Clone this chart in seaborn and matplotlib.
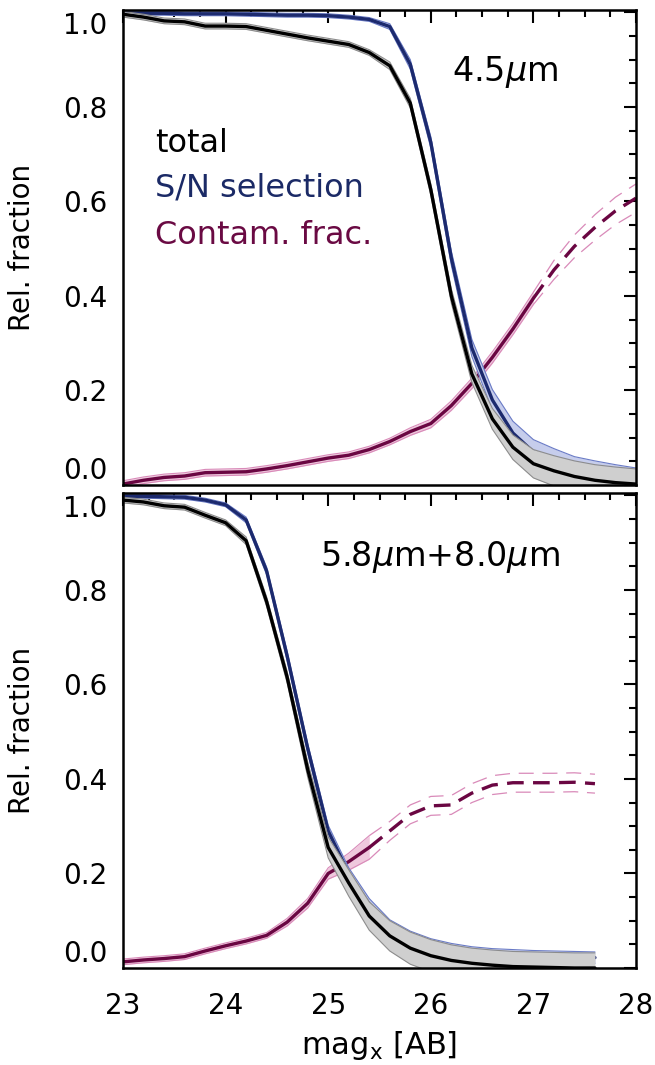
import numpy as np
import pandas as pd
import matplotlib
matplotlib.use("Agg")
import matplotlib.pyplot as plt
import seaborn as sns
from matplotlib.ticker import MultipleLocator, FixedLocator

# ---------------- data ----------------
mag_top = [23.0, 23.2, 23.4, 23.6, 23.8, 24.0, 24.2, 24.4, 24.6, 24.8, 25.0, 25.2, 25.4,
           25.6, 25.8, 26.0, 26.2, 26.4, 26.6, 26.8, 27.0, 27.2, 27.4, 27.6, 27.8, 28.0]
total_top = [0.996, 0.990, 0.982, 0.980, 0.971, 0.971, 0.970, 0.962, 0.954, 0.946, 0.939, 0.932, 0.915,
             0.887, 0.808, 0.625, 0.400, 0.235, 0.140, 0.080, 0.045, 0.030, 0.018, 0.010, 0.005, 0.002]
total_err_top = [0.006, 0.006, 0.006, 0.006, 0.006, 0.006, 0.006, 0.006, 0.006, 0.006, 0.006, 0.006, 0.006,
                 0.008, 0.010, 0.012, 0.015, 0.018, 0.022, 0.026, 0.030, 0.032, 0.033, 0.033, 0.033, 0.032]
sn_top = [0.998, 0.998, 0.998, 0.997, 0.997, 0.997, 0.996, 0.995, 0.994, 0.994, 0.993, 0.990, 0.985,
          0.970, 0.890, 0.725, 0.480, 0.290, 0.180, 0.110, 0.070, 0.055, 0.040, 0.033, 0.028, 0.022]
sn_err_top = [0.004, 0.004, 0.004, 0.004, 0.004, 0.004, 0.004, 0.004, 0.004, 0.004, 0.004, 0.004, 0.004,
              0.006, 0.010, 0.012, 0.015, 0.018, 0.022, 0.025, 0.026, 0.022, 0.020, 0.018, 0.015, 0.014]
contam_top = [0.002, 0.010, 0.016, 0.019, 0.026, 0.027, 0.028, 0.034, 0.041, 0.049, 0.057, 0.063, 0.075,
              0.092, 0.113, 0.130, 0.168, 0.215, 0.270, 0.330, 0.395, 0.455, 0.505, 0.545, 0.580, 0.607]
contam_err_top = [0.007, 0.007, 0.007, 0.007, 0.007, 0.007, 0.007, 0.007, 0.007, 0.007, 0.007, 0.007, 0.007,
                  0.007, 0.008, 0.009, 0.010, 0.011, 0.012, 0.012, 0.013, 0.020, 0.024, 0.027, 0.029, 0.030]
contam_solid_end_top = 27.0

mag_bot = [23.0, 23.2, 23.4, 23.6, 23.8, 24.0, 24.2, 24.4, 24.6, 24.8, 25.0, 25.2,
           25.4, 25.6, 25.8, 26.0, 26.2, 26.4, 26.6, 26.8, 27.0, 27.2, 27.4, 27.6]
total_bot = [0.990, 0.986, 0.978, 0.975, 0.958, 0.942, 0.904, 0.775, 0.615, 0.420, 0.255, 0.180,
             0.110, 0.068, 0.042, 0.026, 0.016, 0.010, 0.006, 0.003, 0.002, 0.001, 0.000, 0.000]
total_err_bot = [0.006, 0.006, 0.006, 0.006, 0.006, 0.006, 0.008, 0.010, 0.012, 0.016, 0.022, 0.028,
                 0.030, 0.032, 0.034, 0.034, 0.033, 0.032, 0.032, 0.032, 0.032, 0.032, 0.032, 0.032]
sn_bot = [0.998, 0.998, 0.997, 0.996, 0.990, 0.980, 0.948, 0.840, 0.660, 0.465, 0.290, 0.200,
          0.135, 0.090, 0.066, 0.050, 0.040, 0.033, 0.029, 0.027, 0.025, 0.024, 0.023, 0.022]
sn_err_bot = [0.004, 0.004, 0.004, 0.004, 0.004, 0.004, 0.006, 0.008, 0.010, 0.010, 0.012, 0.012,
              0.012, 0.012, 0.012, 0.012, 0.012, 0.012, 0.012, 0.012, 0.012, 0.012, 0.012, 0.012]
contam_bot = [0.013, 0.017, 0.020, 0.024, 0.036, 0.047, 0.057, 0.069, 0.097, 0.137, 0.200, 0.225,
              0.255, 0.290, 0.325, 0.343, 0.345, 0.370, 0.387, 0.392, 0.392, 0.392, 0.393, 0.390]
contam_err_bot = [0.006, 0.006, 0.006, 0.006, 0.006, 0.006, 0.006, 0.006, 0.008, 0.010, 0.012, 0.018,
                  0.025, 0.020, 0.020, 0.020, 0.020, 0.020, 0.020, 0.020, 0.020, 0.020, 0.020, 0.020]
contam_solid_end_bot = 25.4

panel_labels = [r"4.5$\mu$m", r"5.8$\mu$m+8.0$\mu$m"]
legend_labels = ["total", "S/N selection", "Contam. frac."]
xticks = [23, 24, 25, 26, 27, 28]
yticks = [0.0, 0.2, 0.4, 0.6, 0.8, 1.0]

# ---------------- style ----------------
sns.set_theme(style="white")
plt.rcParams["font.family"] = ["DejaVu Sans"]
plt.rcParams["mathtext.fontset"] = "dejavusans"
plt.rcParams["text.color"] = "black"
plt.rcParams["axes.labelcolor"] = "black"
plt.rcParams["xtick.color"] = "black"
plt.rcParams["ytick.color"] = "black"

C_BLACK = "#000000"
C_GRAY_FILL = "#cfcfcf"
C_GRAY_EDGE = "#8c8c8c"
C_BLUE = "#1c2a6e"
C_BLUE_FILL = "#c6cdec"
C_BLUE_EDGE = "#6a7bc6"
C_MAROON = "#6a0642"
C_PINK_FILL = "#efc8dd"
C_PINK_EDGE = "#d98ab9"
C_SN_TEXT = "#1b2a66"
C_CONT_TEXT = "#6a0a43"

fig = plt.figure(figsize=(6.55, 10.65), dpi=100)
W, H = 655.0, 1065.0
ax1 = fig.add_axes([123 / W, 1 - 485 / H, 513 / W, 475 / H])
ax2 = fig.add_axes([123 / W, 1 - 968 / H, 513 / W, 475 / H])

THICK_DASH = (0, (5.0, 2.8))
THIN_DASH = (0, (12.0, 7.0))


def band(ax, x, y, e, fill, edge, z):
    x = np.asarray(x); y = np.asarray(y); e = np.asarray(e)
    ax.fill_between(x, y - e, y + e, color=fill, lw=0, zorder=z)
    sns.lineplot(x=x, y=y + e, ax=ax, color=edge, lw=0.8, zorder=z + 0.1, errorbar=None)
    sns.lineplot(x=x, y=y - e, ax=ax, color=edge, lw=0.8, zorder=z + 0.1, errorbar=None)


def panel(ax, mag, tot, tot_e, sn, sn_e, con, con_e, solid_end):
    mag = np.asarray(mag)
    con = np.asarray(con); con_e = np.asarray(con_e)
    s = mag <= solid_end + 1e-9
    d = mag >= solid_end - 1e-9
    # contamination fraction (drawn first)
    band(ax, mag[s], con[s], con_e[s], C_PINK_FILL, C_PINK_EDGE, 1)
    sns.lineplot(x=mag[s], y=con[s], ax=ax, color=C_MAROON, lw=2.4, zorder=1.5, errorbar=None)
    sns.lineplot(x=mag[d], y=con[d] + con_e[d], ax=ax, color=C_PINK_EDGE, lw=0.9,
                 linestyle=THIN_DASH, zorder=1.2, errorbar=None)
    sns.lineplot(x=mag[d], y=con[d] - con_e[d], ax=ax, color=C_PINK_EDGE, lw=0.9,
                 linestyle=THIN_DASH, zorder=1.2, errorbar=None)
    sns.lineplot(x=mag[d], y=con[d], ax=ax, color=C_MAROON, lw=2.4,
                 linestyle=THICK_DASH, zorder=1.5, errorbar=None)
    # S/N selection
    band(ax, mag, sn, sn_e, C_BLUE_FILL, C_BLUE_EDGE, 2)
    sns.lineplot(x=mag, y=sn, ax=ax, color=C_BLUE, lw=2.4, zorder=2.5, errorbar=None)
    # total
    band(ax, mag, tot, tot_e, C_GRAY_FILL, C_GRAY_EDGE, 3)
    sns.lineplot(x=mag, y=tot, ax=ax, color=C_BLACK, lw=2.4, zorder=3.5, errorbar=None)

    ax.set_xlim(23, 28)
    ax.set_ylim(0, 1.005)
    ax.xaxis.set_major_locator(FixedLocator(xticks))
    ax.xaxis.set_minor_locator(MultipleLocator(0.25))
    ax.yaxis.set_major_locator(FixedLocator(yticks))
    ax.yaxis.set_minor_locator(MultipleLocator(0.05))
    ax.set_yticklabels([f"{v:.1f}" for v in yticks])
    ax.tick_params(which="both", direction="in", top=True, right=True,
                   colors="black", width=1.5)
    ax.tick_params(which="major", length=9)
    ax.tick_params(which="minor", length=5)
    ax.tick_params(axis="y", labelsize=20, pad=11)
    ax.tick_params(axis="x", labelsize=20, pad=17)
    for sp in ax.spines.values():
        sp.set_linewidth(1.8)
        sp.set_color("black")
        sp.set_zorder(10)
    ax.set_ylabel("Rel. fraction", fontsize=20, color="black")
    ax.yaxis.set_label_coords(-0.17, 0.5)
    ax.set_xlabel("")
    ax.set_facecolor("white")
    ticks = ax.yaxis.get_major_ticks()
    ticks[0].label1.set_verticalalignment("bottom")
    ticks[-1].label1.set_verticalalignment("top")


panel(ax1, mag_top, total_top, total_err_top, sn_top, sn_err_top,
      contam_top, contam_err_top, contam_solid_end_top)
panel(ax2, mag_bot, total_bot, total_err_bot, sn_bot, sn_err_bot,
      contam_bot, contam_err_bot, contam_solid_end_bot)

ax1.set_xticklabels([])
ax2.set_xticklabels([str(t) for t in xticks])
ax2.set_xlabel(r"mag$_{\rm x}$ [AB]", fontsize=22, color="black")
ax2.xaxis.set_label_coords(0.5, -0.128)

# legend-like texts
ax1.text(0.062, 0.72, legend_labels[0], transform=ax1.transAxes, fontsize=23,
         color=C_BLACK, va="center", ha="left")
ax1.text(0.062, 0.625, legend_labels[1], transform=ax1.transAxes, fontsize=23,
         color=C_SN_TEXT, va="center", ha="left")
ax1.text(0.062, 0.526, legend_labels[2], transform=ax1.transAxes, fontsize=23,
         color=C_CONT_TEXT, va="center", ha="left")

ax1.text(0.745, 0.87, panel_labels[0], transform=ax1.transAxes, fontsize=24,
         color="black", va="center", ha="center")
ax2.text(0.618, 0.865, panel_labels[1], transform=ax2.transAxes, fontsize=24,
         color="black", va="center", ha="center")

fig.savefig("out.png", dpi=100, facecolor="white")
